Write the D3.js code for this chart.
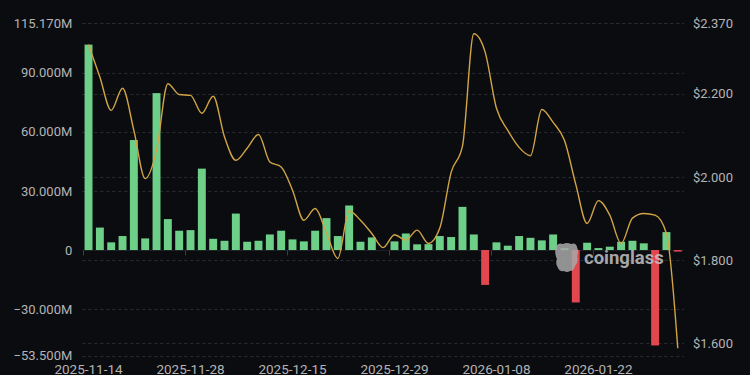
<!DOCTYPE html>
<html>
<head>
<meta charset="utf-8">
<script src="https://cdn.jsdelivr.net/npm/d3@7"></script>
<style>
  html, body { margin: 0; padding: 0; background: #0b0c10; }
  svg { display: block; }
  text { font-family: Roboto, "DejaVu Sans", sans-serif; }
</style>
</head>
<body>
<div id="chart"></div>
<script>
// categories (trading days)
var dates = [
    "2025-11-14", "2025-11-17", "2025-11-18", "2025-11-19", "2025-11-20", "2025-11-21", "2025-11-24", "2025-11-25", "2025-11-26",
    "2025-11-28", "2025-12-01", "2025-12-02", "2025-12-03", "2025-12-04", "2025-12-05", "2025-12-08", "2025-12-09", "2025-12-10",
    "2025-12-15", "2025-12-16", "2025-12-17", "2025-12-18", "2025-12-19", "2025-12-22", "2025-12-23", "2025-12-24", "2025-12-26",
    "2025-12-29", "2025-12-30", "2025-12-31", "2026-01-01", "2026-01-02", "2026-01-04", "2026-01-05", "2026-01-06", "2026-01-07",
    "2026-01-08", "2026-01-09", "2026-01-12", "2026-01-13", "2026-01-14", "2026-01-15", "2026-01-16", "2026-01-20", "2026-01-21",
    "2026-01-22", "2026-01-23", "2026-01-26", "2026-01-27", "2026-01-28", "2026-01-29", "2026-01-30", "2026-02-02"
];

// net flow, millions USD
var flows = [
    104.2, 11.4, 3.9, 7.1, 55.8, 5.9, 79.6, 15.7, 9.8,
    10.1, 41.3, 5.7, 4.7, 18.5, 4.2, 4.7, 7.9, 9.8,
    5.4, 4.4, 9.8, 16.2, 7.1, 22.6, 4.2, 6.4, 0,
    4.4, 8.4, 2.9, 3.0, 7.1, 6.6, 21.9, 7.9, -17.7,
    3.9, 2.2, 7.1, 6.2, 4.9, 7.9, 1.0, -26.6, 3.7,
    1.0, 1.7, 4.2, 4.7, 3.4, -48.4, 9.1, -0.8
];

// price, USD
var prices = [
    2.318, 2.240, 2.160, 2.213, 2.112, 1.996, 2.064, 2.224, 2.198,
    2.196, 2.153, 2.194, 2.096, 2.040, 2.069, 2.102, 2.036, 2.024,
    1.968, 1.896, 1.924, 1.865, 1.804, 1.918, 1.896, 1.864, 1.830,
    1.861, 1.848, 1.872, 1.840, 1.877, 2.011, 2.074, 2.344, 2.300,
    2.165, 2.112, 2.071, 2.051, 2.162, 2.131, 2.088, 1.982, 1.888,
    1.943, 1.908, 1.840, 1.901, 1.912, 1.908, 1.864, 1.588
];

var leftDomain = [-53.5, 115.17];
var leftTicks = [-53.5, -30, 0, 30, 60, 90, 115.17];
var rightDomain = [1.5707, 2.37];
var rightTicks = [1.6, 1.8, 2.0, 2.2, 2.37];
var labelEvery = 9;

var width = 750, height = 375;
var plot = {left: 82.3, right: 684, top: 23, bottom: 355.5};

var svg = d3.select("#chart")
    .append("svg")
    .attr("width", width)
    .attr("height", height);

svg.append("rect")
    .attr("width", width)
    .attr("height", height)
    .attr("fill", "#0b0c10");

var x = d3.scaleBand()
    .domain(dates)
    .range([plot.left, plot.right])
    .paddingInner(0.3)
    .paddingOuter(0.2);

var yL = d3.scaleLinear().domain(leftDomain).range([plot.bottom, plot.top]);
var yR = d3.scaleLinear().domain(rightDomain).range([plot.bottom, plot.top]);

var fmtL = function (v) { return v === 0 ? "0" : d3.format(".3f")(v) + "M"; };
var fmtR = function (v) { return "$" + d3.format(".3f")(v); };

// grid lines (both axes)
var grid = svg.append("g").attr("class", "grid");
leftTicks.filter(function (v) { return v !== 0; }).forEach(function (v) {
    grid.append("line")
        .attr("x1", plot.left).attr("x2", plot.right)
        .attr("y1", Math.round(yL(v)) + 0.5).attr("y2", Math.round(yL(v)) + 0.5);
});
rightTicks.forEach(function (v) {
    grid.append("line")
        .attr("x1", plot.left).attr("x2", plot.right)
        .attr("y1", Math.round(yR(v)) + 0.5).attr("y2", Math.round(yR(v)) + 0.5);
});
grid.selectAll("line")
    .attr("stroke", "#2a2c32")
    .attr("stroke-width", 1)
    .attr("stroke-dasharray", "3,3");

// left axis labels
var yAxisL = d3.axisLeft(yL).tickValues(leftTicks).tickFormat(fmtL).tickSize(0).tickPadding(10);
svg.append("g")
    .attr("transform", "translate(" + plot.left + ",0)")
    .call(yAxisL)
    .call(function (g) { g.select(".domain").remove(); })
    .selectAll("text")
    .attr("fill", "#b4b4b4")
    .style("font-size", "13px");

// right axis labels
var yAxisR = d3.axisRight(yR).tickValues(rightTicks).tickFormat(fmtR).tickSize(0).tickPadding(9);
svg.append("g")
    .attr("transform", "translate(" + plot.right + ",0)")
    .call(yAxisR)
    .call(function (g) { g.select(".domain").remove(); })
    .selectAll("text")
    .attr("fill", "#b4b4b4")
    .style("font-size", "13px");

// zero axis line with ticks at label intervals
var zeroY = Math.round(yL(0)) + 0.5;
svg.append("line")
    .attr("x1", plot.left).attr("x2", plot.right)
    .attr("y1", zeroY).attr("y2", zeroY)
    .attr("stroke", "#1d1f24");

var labelled = dates.filter(function (d, i) { return i % labelEvery === 0; });
svg.selectAll(".xtick")
    .data(labelled)
    .enter().append("line")
    .attr("class", "xtick")
    .attr("x1", function (d) { return Math.round(x(d) + x.bandwidth() / 2 - x.step() / 2) + 0.5; })
    .attr("x2", function (d) { return Math.round(x(d) + x.bandwidth() / 2 - x.step() / 2) + 0.5; })
    .attr("y1", zeroY).attr("y2", zeroY + 5)
    .attr("stroke", "#3a3c42");

svg.selectAll(".xlabel")
    .data(labelled)
    .enter().append("text")
    .attr("class", "xlabel")
    .attr("x", function (d) { return x(d) + x.bandwidth() / 2; })
    .attr("y", 373.5)
    .attr("text-anchor", "middle")
    .attr("fill", "#b4b4b4")
    .style("font-size", "13.5px")
    .text(function (d) { return d; });

// bars
svg.selectAll(".bar")
    .data(flows)
    .enter().append("rect")
    .attr("class", "bar")
    .attr("x", function (d, i) { return x(dates[i]); })
    .attr("width", x.bandwidth())
    .attr("y", function (d) { return yL(Math.max(0, d)); })
    .attr("height", function (d) { return Math.abs(yL(d) - yL(0)); })
    .attr("fill", function (d) { return d >= 0 ? "#6dcf88" : "#e2474f"; });

// price line
var line = d3.line()
    .x(function (d, i) { return x(dates[i]) + x.bandwidth() / 2; })
    .y(function (d) { return yR(d); })
    .curve(d3.curveMonotoneX);

svg.append("path")
    .datum(prices)
    .attr("d", line)
    .attr("fill", "none")
    .attr("stroke", "#d1a445")
    .attr("stroke-width", 1.4);

// watermark
var wm = svg.append("g").attr("opacity", 0.85);
wm.append("path")
    .attr("d", "M556,247 q2,-5 7,-3 q4,-2 8,0 q5,-2 6,3 q2,4 0,9 q2,6 -2,10 q-1,5 -5,5 q-3,2 -6,0 q-4,1 -6,-3 q-3,-4 -1,-9 q-3,-6 -1,-12 z")
    .attr("fill", "#a9a9a9");
wm.append("text")
    .attr("x", 584)
    .attr("y", 264)
    .attr("fill", "#c2c2c2")
    .style("font-size", "18.5px")
    .style("font-weight", "bold")
    .text("coinglass");
</script>
</body>
</html>
